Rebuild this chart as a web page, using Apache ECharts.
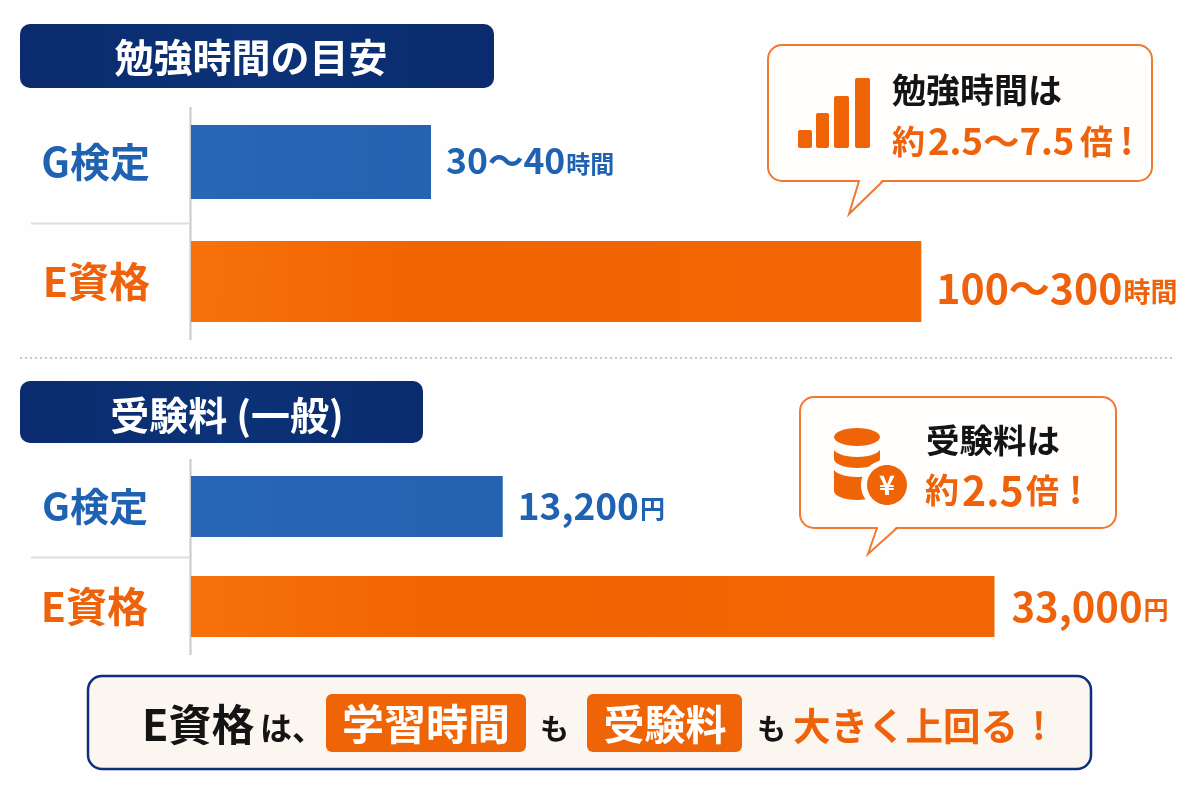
<!DOCTYPE html>
<html lang="ja">
<head>
<meta charset="utf-8">
<title>G検定とE資格の比較</title>
<style>html,body{margin:0;padding:0;background:#fefefe}#chart{width:1200px;height:800px}</style>
<script src="https://cdn.jsdelivr.net/npm/echarts@6/dist/echarts.min.js"></script>
</head>
<body>
<div id="chart"></div>
<script>
// Exam names and the two comparison panels
const examNames = ['G検定', 'E資格'];
const studyHours = [35, 106.5];           // a representative point inside each stated range
const studyLabels = ['30〜40', '100〜300'];
const feeYen = [13200, 33000];
const feeLabels = ['13,200', '33,000'];

const FONT = '"Noto Sans CJK JP", "Noto Sans", sans-serif';
const BLUE = '#1f62b1';
const ORANGE = '#ee620b';
const ICON = '#ee6406';
const PAPER = '#fffefd';
const INK = '#141414';

const blueFill = { type: 'linear', x: 0, y: 0, x2: 1, y2: 0,
  colorStops: [{ offset: 0, color: '#2866b6' }, { offset: 1, color: '#2562b0' }] };
const orangeFill = { type: 'linear', x: 0, y: 0, x2: 1, y2: 0.2,
  colorStops: [{ offset: 0, color: '#f7720a' }, { offset: 0.3, color: '#f16402' }, { offset: 1, color: '#f26605' }] };

// One grid per bar, since the rows have their own heights
const rows = [
  { top: 125, height: 74, name: 0, value: studyHours[0], text: studyLabels[0], unit: '時間', min: 0, max: 140, color: BLUE, fill: blueFill, size: 35.5, unitSize: 24, labelSize: 40, margin: 41, gap: 15, dy: -1 },
  { top: 241, height: 81, name: 1, value: studyHours[1], text: studyLabels[1], unit: '時間', min: 0, max: 140, color: ORANGE, fill: orangeFill, size: 41, unitSize: 27, labelSize: 41, margin: 41, gap: 15, dy: 7 },
  { top: 476, height: 61, name: 0, value: feeYen[0], text: feeLabels[0], unit: '円', min: 650, max: 39300, color: BLUE, fill: blueFill, size: 37, unitSize: 25, labelSize: 39, margin: 43, gap: 15, dy: -1 },
  { top: 576, height: 61, name: 1, value: feeYen[1], text: feeLabels[1], unit: '円', min: 650, max: 39300, color: ORANGE, fill: orangeFill, size: 40, unitSize: 25, labelSize: 41, margin: 43, gap: 17, dy: 0 }
];

function text(x, y, str, size, fill, align) {
  return { type: 'text', silent: true, style: {
    x, y, text: str, fill, fontFamily: FONT, fontSize: size, fontWeight: 700,
    align: align || 'left', verticalAlign: 'middle' } };
}
function line(x1, y1, x2, y2, stroke, width, dash) {
  return { type: 'line', silent: true, shape: { x1, y1, x2, y2 },
    style: { stroke, lineWidth: width, lineDash: dash || null } };
}
function box(x, y, width, height, r, fill, stroke, lineWidth) {
  return { type: 'rect', silent: true, shape: { x, y, width, height, r },
    style: { fill, stroke: stroke || null, lineWidth: lineWidth || 0 } };
}
function oval(cx, cy, rx, ry, fill) {
  return { type: 'ellipse', silent: true, shape: { cx, cy, rx, ry }, style: { fill } };
}
// Callout: rounded box, a paper-coloured wedge over its lower edge, then the wedge outline
function bubble(l, t, r, b, rad, tailL, tipX, tipY, tailR) {
  const tail = [[tailL, b], [tipX, tipY], [tailR, b]];
  return [
    box(l, t, r - l, b - t, rad, PAPER, '#f2772f', 2),
    { type: 'polygon', silent: true, shape: { points: [[tailL + 1, b - 1], [tipX, tipY], [tailR - 1, b - 1]] }, style: { fill: PAPER } },
    { type: 'polyline', silent: true, shape: { points: tail }, style: { fill: null, stroke: '#f2772f', lineWidth: 2 } }
  ];
}
const navyFill = { type: 'linear', x: 0, y: 0, x2: 1, y2: 0,
  colorStops: [{ offset: 0, color: '#0a2b6d' }, { offset: 0.5, color: '#0c3277' }, { offset: 1, color: '#0a2b6d' }] };

const decorations = [
  // Section headings
  box(20, 24, 474, 64, 10, navyFill),
  text(251, 57, '勉強時間の目安', 39, '#ffffff', 'center'),
  box(20, 381, 403, 62, 10, navyFill),
  text(227, 415, '受験料 (一般)', 39, '#ffffff', 'center'),

  // Row rules and baselines
  line(190.5, 107, 190.5, 340, '#c9c9c9', 2),
  line(31, 223.5, 190, 223.5, '#dedede', 2),
  line(190.5, 459, 190.5, 655, '#c9c9c9', 2),
  line(31, 557.5, 190, 557.5, '#dedede', 2),
  line(20, 358, 1172, 358, '#c9c9c9', 2, [2, 3]),

  // Study-time callout
  ...bubble(768, 45, 1152, 181, 14, 859, 849, 214, 883),
  box(798, 130, 14, 18, 2, ICON),
  box(816, 113, 13, 35, 2, ICON),
  box(834, 96, 15, 52, 2, ICON),
  box(855, 78, 15, 70, 2, ICON),
  text(892, 90, '勉強時間は', 34, INK),
  text(892, 141, '約', 33, ORANGE),
  text(928, 141, '2.5〜7.5', 36.5, ORANGE),
  text(1080, 141, '倍', 33, ORANGE),
  text(1120, 141, '!', 36, ORANGE),

  // Exam-fee callout: a stack of coins with a yen coin in front
  ...bubble(800, 397, 1116, 528, 14, 877, 868, 554, 897),
  oval(857, 491, 23, 9, ICON),
  box(834, 468, 46, 23, 0, ICON),
  oval(857, 468, 23.5, 9, PAPER),
  oval(857, 459, 23, 9, ICON),
  box(834, 448, 46, 11, 0, ICON),
  oval(857, 448, 23.5, 9, PAPER),
  oval(857, 437, 23, 9, ICON),
  oval(886, 485, 25, 25, PAPER),
  oval(887, 485, 20, 20, ICON),
  text(887, 485, '¥', 27, '#ffffff', 'center'),
  text(926, 440, '受験料は', 33.5, INK),
  text(925, 490, '約', 34, ORANGE),
  text(962, 490, '2.5', 41, ORANGE),
  text(1026, 490, '倍', 33, ORANGE),
  text(1069, 490, '!', 36, ORANGE),

  // Summary strip
  box(88, 676, 1003, 93, 14, '#fbf6ef', '#0e2f7d', 2.5),
  text(142, 725, 'E資格', 43, INK),
  text(260, 728, 'は、', 32, INK),
  box(326, 694, 200, 58, 6, ICON),
  text(426, 724, '学習時間', 42, '#ffffff', 'center'),
  text(540, 729, 'も', 29, INK),
  box(587, 694, 155, 58, 6, ICON),
  text(665, 724, '受験料', 41, '#ffffff', 'center'),
  text(757, 729, 'も', 29, INK),
  text(793, 726, '大きく上回る', 37.5, ORANGE),
  text(1032, 726, '!', 37, ORANGE)
];

const option = {
  animation: false,
  backgroundColor: '#fefefe',
  grid: rows.map(r => ({ left: 191, top: r.top, width: 960, height: r.height, containLabel: false })),
  xAxis: rows.map((r, i) => ({ type: 'value', gridIndex: i, min: r.min, max: r.max, show: false })),
  yAxis: rows.map((r, i) => ({
    type: 'category', gridIndex: i, data: [examNames[r.name]],
    axisLine: { show: false }, axisTick: { show: false }, splitLine: { show: false },
    axisLabel: { color: r.color, fontFamily: FONT, fontSize: r.labelSize, fontWeight: 700, margin: r.margin }
  })),
  series: rows.map((r, i) => ({
    type: 'bar', xAxisIndex: i, yAxisIndex: i, barWidth: '100%', silent: true,
    data: [r.value],
    itemStyle: { color: r.fill },
    label: {
      show: true, position: 'right', distance: r.gap, offset: [0, r.dy],
      formatter: () => `{num|${r.text}}{unit|${r.unit}}`,
      rich: {
        num: { color: r.color, fontFamily: FONT, fontWeight: 700, fontSize: r.size },
        unit: { color: r.color, fontFamily: FONT, fontWeight: 700, fontSize: r.unitSize, padding: [6, 0, 0, 1] }
      }
    }
  })),
  graphic: { elements: decorations }
};

echarts.init(document.getElementById('chart'), null, { renderer: 'canvas' }).setOption(option);
</script>
</body>
</html>
